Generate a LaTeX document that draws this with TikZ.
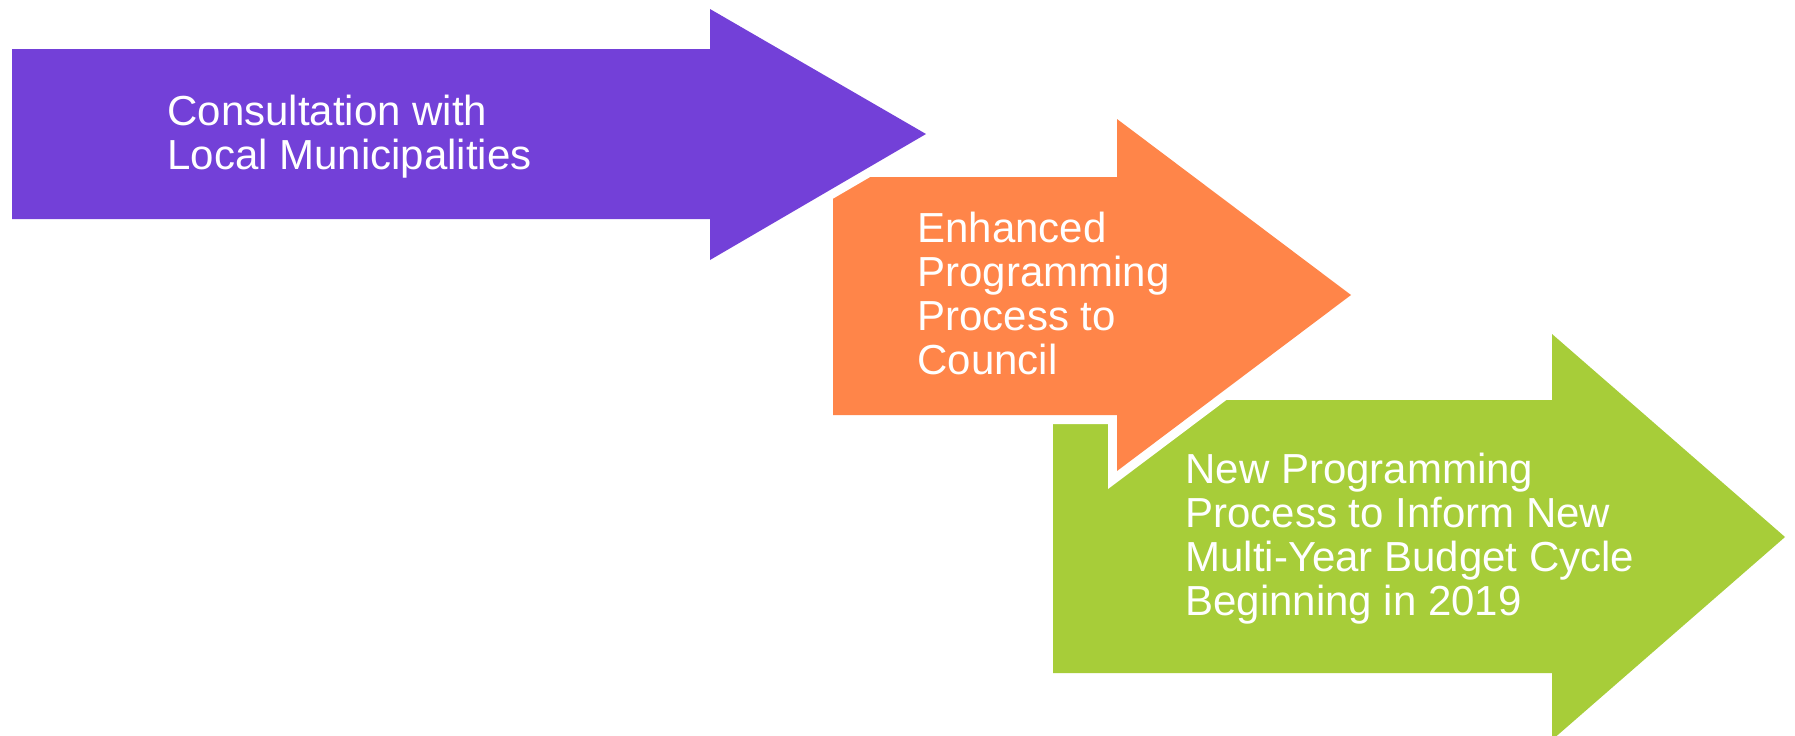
\documentclass[tikz,border=0pt]{standalone}
\usepackage{fontspec}
\setmainfont{Liberation Sans}
\definecolor{arrpurple}{HTML}{7340D8}
\definecolor{arrorange}{HTML}{FF8549}
\definecolor{arrgreen}{HTML}{A7CD39}
\begin{document}
\begin{tikzpicture}[x=0.5pt,y=-0.5pt,
  arrowbody/.style={preaction={draw=white,line width=9pt,line join=miter}},
  txt/.style={anchor=north west,inner sep=0pt,align=left,text=white,
    font=\fontsize{21}{22}\selectfont}]
\useasboundingbox (0,0) rectangle (1795,735);
% green arrow
\fill[arrgreen,arrowbody] (1053,400) -- (1552,400) -- (1552,334) -- (1785,537)
  -- (1552,740) -- (1552,673) -- (1053,673) -- cycle;
% orange arrow
\fill[arrorange,arrowbody] (833,177) -- (1117,177) -- (1117,119) -- (1351,295)
  -- (1117,471) -- (1117,415) -- (833,415) -- cycle;
% purple arrow
\fill[arrpurple,arrowbody] (12,49) -- (710,49) -- (710,9) -- (926,134)
  -- (710,260) -- (710,219) -- (12,219) -- cycle;
\node[txt] (t1) at (167,95) {Consultation with\\Local Municipalities};
\node[txt] (t2) at (917,212) {Enhanced\\Programming\\Process to\\Council};
\node[txt] (t3) at (1185,453) {New Programming\\Process to Inform New\\Multi-Year Budget Cycle\\Beginning in 2019};
\end{tikzpicture}
\end{document}
